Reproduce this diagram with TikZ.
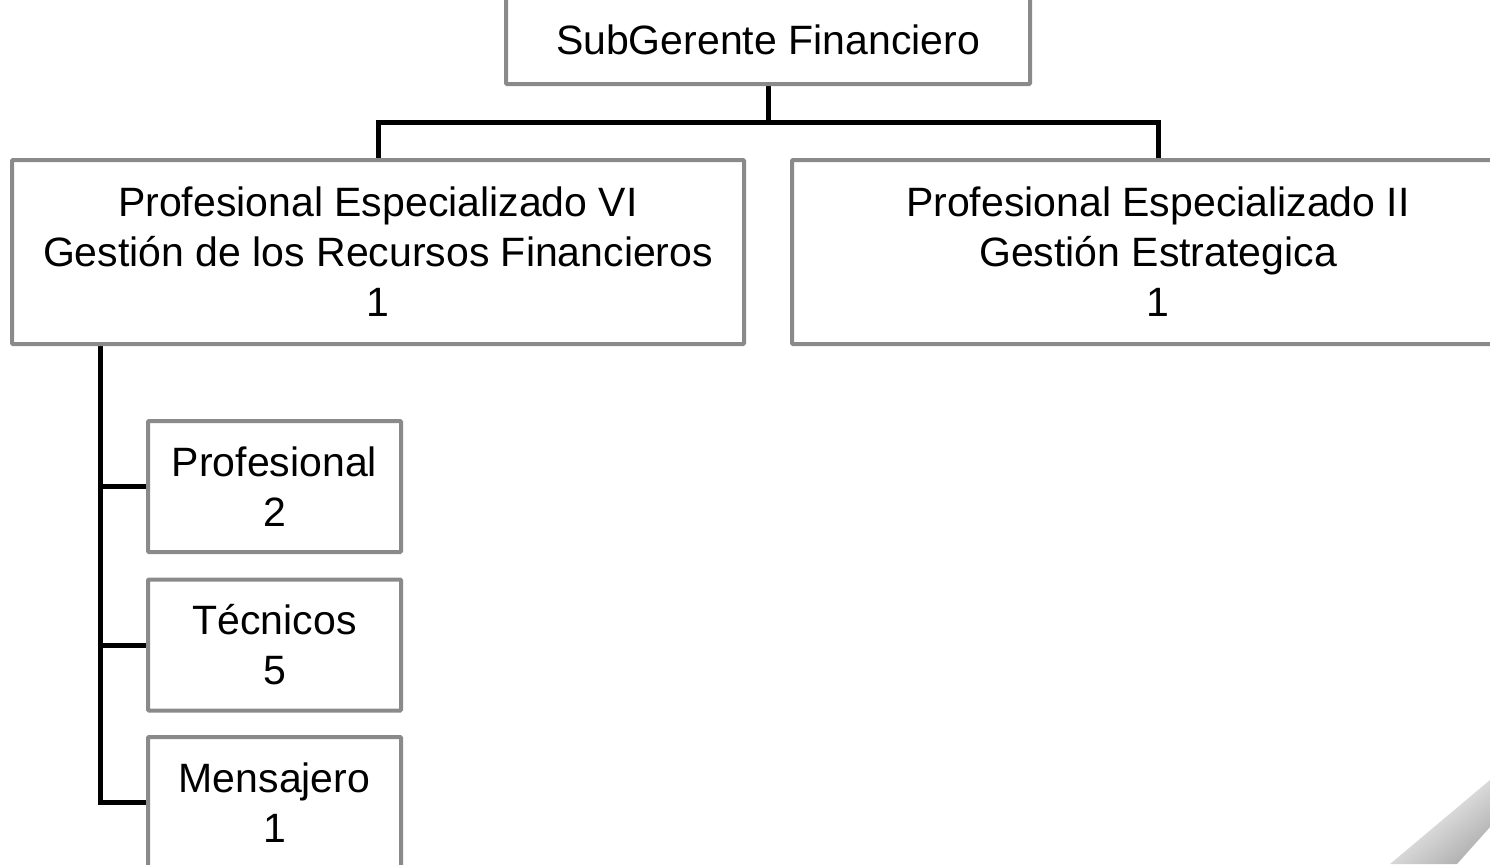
\documentclass[tikz,border=0pt]{standalone}
\usepackage{fontspec}
\setmainfont{Liberation Sans}
\usetikzlibrary{backgrounds}

\definecolor{boxgray}{HTML}{8A8A8A}

\tikzset{
	cargo/.style={draw=boxgray, line width=2pt, fill=white, inner sep=0pt, outer sep=0pt,
		align=center, font=\fontsize{20.5}{25}\selectfont, rounded corners=0.5pt},
	cargobig/.style={cargo, minimum width=366pt, minimum height=92pt},
	cargosmall/.style={cargo, minimum width=126.5pt, minimum height=65.5pt},
	linea/.style={line width=2.5pt, black}
}

\begin{document}
\begin{tikzpicture}[x=0.5pt, y=-0.5pt]
	\clip (0,0) rectangle (1490,864);

	% jefe y primer nivel
	\node[cargo, minimum width=262pt, minimum height=44pt] (sub) at (768,40) {SubGerente Financiero};
	\node[cargobig] (pe6) at (378,252) {Profesional Especializado VI\\Gestión de los Recursos Financieros\\1};
	\node[cargobig] (pe2) at (1158,252) {Profesional Especializado II\\Gestión Estrategica\\1};

	% grupo de apoyo
	\node[cargosmall] (prof) at (274.5,486.5) {Profesional\\2};
	\node[cargosmall] (tec) at (274.5,645) {Técnicos\\5};
	\node[cargosmall] (mens) at (274.5,802.5) {Mensajero\\1};
	\coordinate (tronco) at (100,344);

	\begin{scope}[on background layer]
		\draw[linea] (sub.south) -- ++(0,38) -| (pe6.north);
		\draw[linea] (sub.south) -- ++(0,38) -| (pe2.north);
		\draw[linea] (tronco) |- (prof.west);
		\draw[linea] (tronco) |- (tec.west);
		\draw[linea] (tronco) |- (mens.west);
	\end{scope}

	% esquina doblada
	\shade[top color=white, middle color=gray!15, bottom color=gray!62, shading angle=39]
		(1390,864) -- (1490,780) -- (1490,827) -- (1457,864) -- cycle;
\end{tikzpicture}
\end{document}
